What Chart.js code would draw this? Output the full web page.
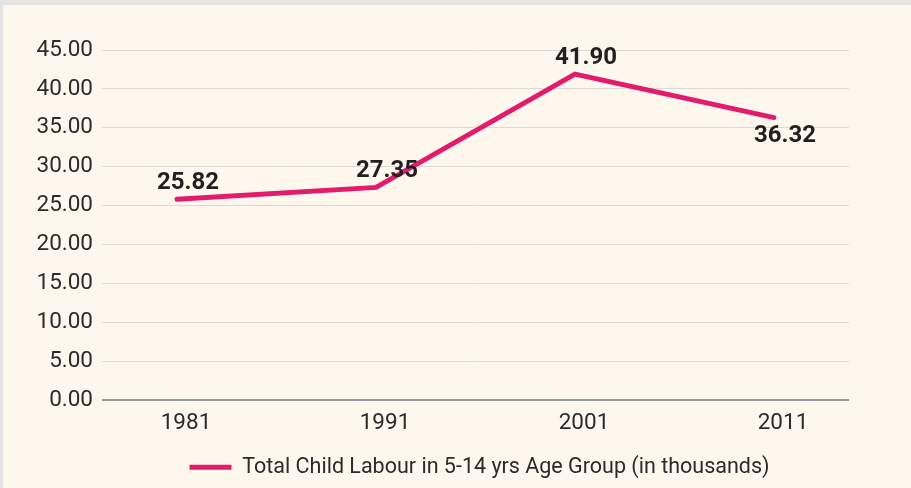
<!DOCTYPE html>
<html>
<head>
<meta charset="utf-8">
<script src="https://cdn.jsdelivr.net/npm/chart.js@4/dist/chart.umd.min.js"></script>
<style>
html,body{margin:0;padding:0;width:911px;height:488px;overflow:hidden;background:#e4e4e2;}
#wrap{position:absolute;left:3px;top:5px;width:908px;height:483px;background:#fef7ee;}
canvas{display:block;}
</style>
</head>
<body>
<div id="wrap"><canvas id="c" width="908" height="483"></canvas></div>
<script>
const categories = [1981, 1991, 2001, 2011];
const childLabour = [25.82, 27.35, 41.90, 36.32];
const yTicks = [0, 5, 10, 15, 20, 25, 30, 35, 40, 45];
const seriesName = 'Total Child Labour in 5-14 yrs Age Group (in thousands)';

const labelPlugin = {
  id: 'valueLabels',
  afterLayout(chart) {
    // centre the legend under the plot area
    const lg = chart.legend;
    if (lg) {
      const shift = (chart.chartArea.left + chart.chartArea.right) / 2 - (lg.left + lg.right) / 2 + 4;
      lg.left += shift;
      lg.right += shift;
    }
  },
  afterDatasetsDraw(chart) {
    const ctx = chart.ctx;
    const meta = chart.getDatasetMeta(0);
    const below = [false, false, false, true];
    ctx.save();
    ctx.font = 'bold 24px Roboto';
    ctx.fillStyle = '#231f20';
    ctx.textAlign = 'center';
    ctx.textBaseline = 'alphabetic';
    meta.data.forEach((pt, i) => {
      const y = below[i] ? pt.y + 24 : pt.y - 10;
      ctx.fillText(childLabour[i].toFixed(2), pt.x + 11, y);
    });
    ctx.restore();
  }
};

new Chart(document.getElementById('c'), {
  type: 'line',
  data: {
    datasets: [{
      label: seriesName,
      data: categories.map((c, i) => ({ x: c, y: childLabour[i] })),
      borderColor: '#e31b6d',
      backgroundColor: '#e31b6d',
      borderWidth: 5,
      borderCapStyle: 'round',
      borderJoinStyle: 'miter',
      pointRadius: 0,
      tension: 0
    }]
  },
  options: {
    responsive: false,
    animation: false,
    devicePixelRatio: 1,
    layout: { padding: { top: 45, right: 62, left: 0, bottom: 0 } },
    plugins: {
      legend: {
        position: 'bottom',
        labels: {
          usePointStyle: true,
          pointStyle: 'line',
          pointStyleWidth: 42,
          color: '#2b2b2b',
          font: { family: 'Roboto', size: 21.5 },
          padding: 10
        }
      },
      tooltip: { enabled: false }
    },
    scales: {
      x: {
        type: 'linear',
        min: 1977.23,
        max: 2014.77,
        afterBuildTicks(scale) { scale.ticks = categories.map(v => ({ value: v })); },
        afterFit(scale) { scale.height = 46.2; },
        grid: { display: false, drawTicks: false },
        border: { display: false },
        ticks: {
          color: '#2b2b2b',
          font: { family: 'Roboto', size: 22.5 },
          padding: 10,
          labelOffset: 9,
          autoSkip: false,
          maxRotation: 0,
          callback: v => String(v)
        }
      },
      y: {
        min: 0,
        max: 45,
        afterBuildTicks(scale) { scale.ticks = yTicks.map(v => ({ value: v })); },
        afterFit(scale) { scale.width = 99; },
        grid: {
          color: ctx => ctx.tick && ctx.tick.value === 0 ? '#9a9a9a' : '#dddad5',
          lineWidth: ctx => ctx.tick && ctx.tick.value === 0 ? 2 : 1,
          drawTicks: false
        },
        border: { display: false },
        ticks: {
          color: '#2b2b2b',
          font: { family: 'Roboto', size: 22.5 },
          padding: 9,
          callback: v => v.toFixed(2)
        }
      }
    }
  },
  plugins: [labelPlugin]
});
</script>
</body>
</html>
